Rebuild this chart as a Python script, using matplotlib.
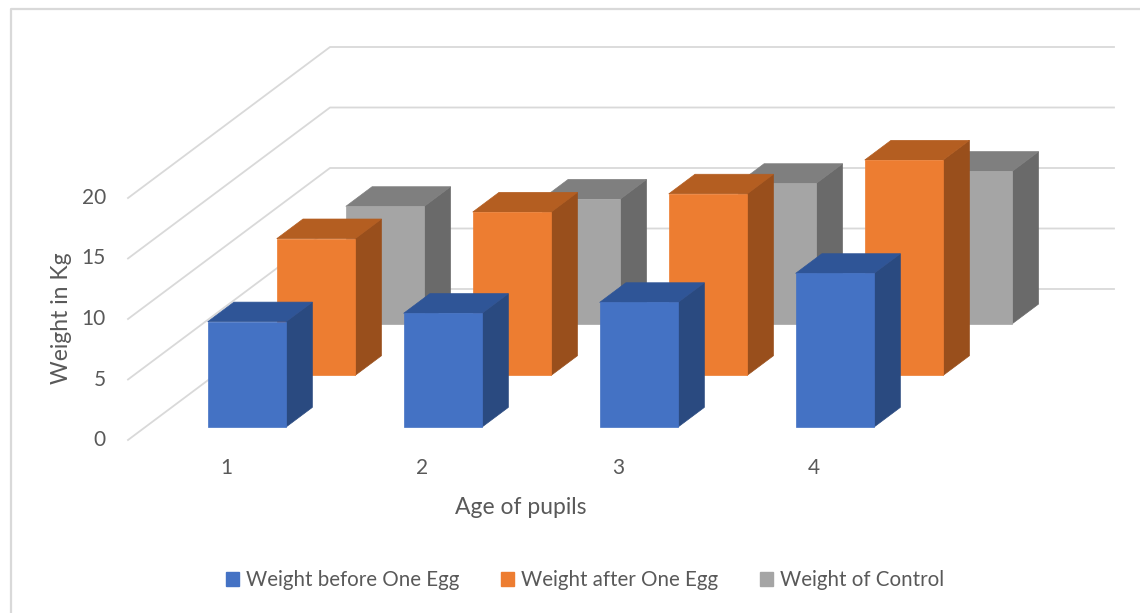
import matplotlib.pyplot as plt
from matplotlib.patches import Polygon, Patch
import numpy as np

# Pupil ages and weights (kg)
ages = ["1", "2", "3", "4"]
series_names = ["Weight before One Egg", "Weight after One Egg", "Weight of Control"]
before_egg = [8.7, 9.4, 10.3, 12.7]
after_egg = [11.3, 13.5, 15.0, 17.8]
control = [9.7, 10.3, 11.6, 12.6]
y_ticks = [0, 5, 10, 15, 20]

# front / top / side shades for each series
face_colors = ["#4472C4", "#ED7D31", "#A5A5A5"]
top_colors = ["#2F5597", "#B45E21", "#7F7F7F"]
side_colors = ["#2A4A80", "#994F1C", "#6A6A6A"]

plt.rcParams["font.family"] = ["Lato", "DejaVu Sans"]
text_color = "#595959"
grid_color = "#d9d9d9"

W, H = 1140, 613
fig = plt.figure(figsize=(W / 100, H / 100), dpi=100)
ax = fig.add_axes([0, 0, 1, 1])

# front plane: x in category units, y in kg
x_px0, x_scale = 131.5, 196.0
y_px0, y_scale = 440.0, 12.1
ax.set_xlim((0 - x_px0) / x_scale, (W - x_px0) / x_scale)
ax.set_ylim((y_px0 - H) / y_scale, y_px0 / y_scale)
ax.axis("off")

# oblique depth vector for the full depth of the floor
depth_vec = np.array([202.0 / x_scale, 151.0 / y_scale])
n_cat = len(ages)
n_rows = 3
wall_x = -3.5 / x_scale  # left wall sits a touch left of the first category


def proj(x, z, v):
    # x: category units, z: depth fraction 0..1, v: value
    return (x + z * depth_vec[0], v + z * depth_vec[1])


def px(x_pix, y_pix):
    # figure pixel position -> data coordinates (for labels)
    return (x_pix - x_px0) / x_scale, (y_px0 - y_pix) / y_scale


# chart border (left and top edges)
bl = px(11, H)
tl = px(11, 9)
tr = px(W, 9)
ax.plot([bl[0], tl[0], tr[0]], [bl[1], tl[1], tr[1]],
        color=grid_color, lw=1.6, zorder=0)

# gridlines on left wall and back wall
for t in y_ticks:
    p0 = proj(wall_x, 0, t)
    p1 = proj(wall_x, 1, t)
    p2 = proj(n_cat + wall_x, 1, t)
    ax.plot([p0[0], p1[0], p2[0]], [p0[1], p1[1], p2[1]],
            color=grid_color, lw=1.3, zorder=1)
    ax.text(px(106, 0)[0], t, str(t), ha="right", va="center",
            fontsize=15, color=text_color)


def draw_bar(xl, xr, z0, z1, v, c_face, c_top, c_side, zo):
    front = [proj(xl, z0, 0), proj(xr, z0, 0), proj(xr, z0, v), proj(xl, z0, v)]
    top = [proj(xl, z0, v), proj(xr, z0, v), proj(xr, z1, v), proj(xl, z1, v)]
    side = [proj(xr, z0, 0), proj(xr, z1, 0), proj(xr, z1, v), proj(xr, z0, v)]
    for pts, c in ((side, c_side), (top, c_top), (front, c_face)):
        ax.add_patch(Polygon(pts, closed=True, facecolor=c, edgecolor=c,
                             lw=0.5, zorder=zo))


all_series = [before_egg, after_egg, control]
bar_w = 0.4
row_step = 0.342
row_front = 0.086
bar_depth = 0.13
# back rows first so front rows cover them
for r in range(n_rows - 1, -1, -1):
    z0 = row_front + r * row_step
    z1 = z0 + bar_depth
    for i, v in enumerate(all_series[r]):
        xl = i + 0.5 - bar_w / 2
        xr = i + 0.5 + bar_w / 2
        draw_bar(xl, xr, z0, z1, v, face_colors[r], top_colors[r],
                 side_colors[r], zo=10 + (n_rows - r))

# category labels
for i, lab in enumerate(ages):
    ax.text(i + 0.5 + wall_x, px(0, 468)[1], lab, ha="center", va="center",
            fontsize=15, color=text_color)

xt = px(521, 508)
ax.text(xt[0], xt[1], "Age of pupils", ha="center", va="center",
        fontsize=16.5, color=text_color)
yt = px(62, 318)
ax.text(yt[0], yt[1], "Weight in Kg", ha="center", va="center", rotation=90,
        fontsize=16.5, color=text_color)

handles = [Patch(facecolor=c, edgecolor=c) for c in face_colors]
fig.legend(handles, series_names, loc="center", bbox_to_anchor=(585 / W, 1 - 580 / H),
           ncol=3, frameon=False, fontsize=14.8, handlelength=0.65, handleheight=0.65,
           handletextpad=0.35, columnspacing=2.0, labelcolor=text_color)

fig.savefig("out.png", dpi=100, facecolor="white")
